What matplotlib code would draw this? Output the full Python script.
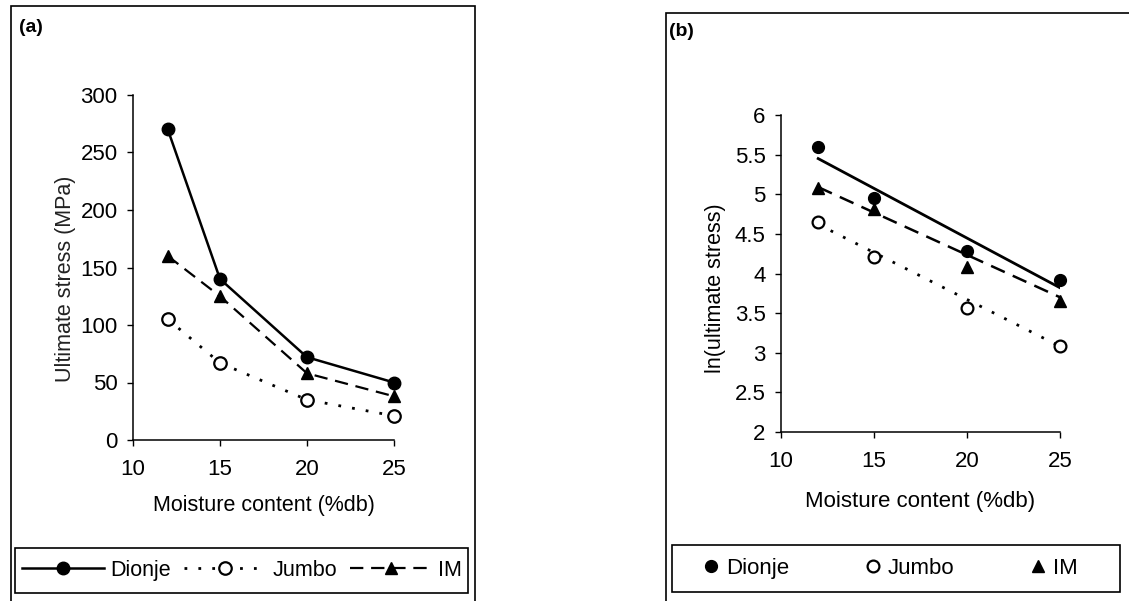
import matplotlib
matplotlib.use('Agg')
import matplotlib.pyplot as plt
from matplotlib.patches import Rectangle
from matplotlib.ticker import FormatStrFormatter

plt.rcParams['font.family'] = ['Liberation Sans', 'DejaVu Sans']

W, H = 1129, 601

# (a) ultimate stress vs moisture content
moisture = [12, 15, 20, 25]
dionje_stress = [270, 140, 72, 50]
jumbo_stress = [105, 67, 35, 21]
im_stress = [160, 125, 58, 38]

# (b) ln(ultimate stress)
dionje_ln = [5.60, 4.95, 4.28, 3.92]
jumbo_ln = [4.65, 4.21, 3.57, 3.08]
im_ln = [5.08, 4.82, 4.08, 3.65]

# fitted lines in (b), end points
trend_x = [12, 25]
dionje_trend = [5.45, 3.82]
jumbo_trend = [4.62, 3.08]
im_trend = [5.09, 3.70]

series_names = ['Dionje', 'Jumbo', 'IM']


def fx(px):
	return px / W


def fy(py):
	return 1 - py / H


def style_axes(ax, fs):
	for s in ['top', 'right']:
		ax.spines[s].set_visible(False)
	for s in ['left', 'bottom']:
		ax.spines[s].set_linewidth(1.1)
	ax.tick_params(direction='out', length=4, width=1, labelsize=fs)
	ax.tick_params(axis='x', pad=10)
	ax.tick_params(axis='y', pad=7)


fig = plt.figure(figsize=(W / 100, H / 100), dpi=100)

# panel frames
fig.patches.append(Rectangle((fx(11), fy(640)), fx(475 - 11), (640 - 6) / H,
	transform=fig.transFigure, fill=False, lw=1.2, ec='black'))
fig.patches.append(Rectangle((fx(666), fy(640)), fx(1160 - 666), (640 - 13) / H,
	transform=fig.transFigure, fill=False, lw=1.2, ec='black'))
# legend frames
fig.patches.append(Rectangle((fx(15), fy(593)), fx(468 - 15), (593 - 548) / H,
	transform=fig.transFigure, fill=False, lw=1.2, ec='black'))
fig.patches.append(Rectangle((fx(672), fy(592)), fx(1120 - 672), (592 - 545) / H,
	transform=fig.transFigure, fill=False, lw=1.2, ec='black'))

fig.text(fx(19), fy(28), '(a)', fontsize=14, fontweight='bold', va='center', ha='left')
fig.text(fx(669), fy(32), '(b)', fontsize=14, fontweight='bold', va='center', ha='left')

# ---- panel (a)
ax = fig.add_axes([fx(133), fy(440), fx(394 - 133), (440 - 95) / H])
l1, = ax.plot(moisture, dionje_stress, color='black', lw=1.8, marker='o', ms=9,
	clip_on=False, zorder=3)
l2, = ax.plot(moisture, jumbo_stress, color='black', lw=2, dashes=(1, 4), marker='o', ms=9,
	mfc='white', mec='black', mew=1.6, clip_on=False, zorder=3)
l3, = ax.plot(moisture, im_stress, color='black', lw=1.6, dashes=(6, 3.5), marker='^', ms=9,
	clip_on=False, zorder=3)
ax.set_xlim(10, 25)
ax.set_ylim(0, 300)
ax.set_xticks([10, 15, 20, 25])
ax.set_yticks(range(0, 301, 50))
style_axes(ax, 16)
ax.set_xlabel('Moisture content (%db)', fontsize=15.5)
ax.set_ylabel('Ultimate stress (MPa)', fontsize=15.5, color='#222222')
ax.xaxis.set_label_coords(0.5, (440 - 505) / 345)
ax.xaxis.label.set_va('center')
ax.yaxis.set_label_coords((65 - 133) / 261, (440 - 279) / 345)
ax.yaxis.label.set_va('center')

fig.legend([l1, l2, l3], series_names, loc='center', ncol=3, mode='expand',
	bbox_to_anchor=(fx(22), fy(593), fx(462 - 22), (593 - 548) / H),
	bbox_transform=fig.transFigure, frameon=False, fontsize=15.5,
	handlelength=3.8, handletextpad=0.3, borderpad=0, borderaxespad=0)

# ---- panel (b)
bx = fig.add_axes([fx(781), fy(432), fx(1060 - 781), (432 - 115) / H])
bx.plot(trend_x, dionje_trend, color='black', lw=2)
bx.plot(trend_x, im_trend, color='black', lw=1.8, dashes=(6, 3.5))
bx.plot(trend_x, jumbo_trend, color='black', lw=2, dashes=(1, 4))
m1, = bx.plot(moisture, dionje_ln, 'o', color='black', ms=8.5, clip_on=False, zorder=3)
m2, = bx.plot(moisture, jumbo_ln, 'o', mfc='white', mec='black', mew=1.6, ms=8.5,
	clip_on=False, zorder=3)
m3, = bx.plot(moisture, im_ln, '^', color='black', ms=9, clip_on=False, zorder=3)
bx.set_xlim(10, 25)
bx.set_ylim(2, 6)
bx.set_xticks([10, 15, 20, 25])
bx.set_yticks([2, 2.5, 3, 3.5, 4, 4.5, 5, 5.5, 6])
bx.yaxis.set_major_formatter(FormatStrFormatter('%g'))
style_axes(bx, 16)
bx.set_xlabel('Moisture content (%db)', fontsize=16)
bx.set_ylabel('ln(ultimate stress)', fontsize=15.5)
bx.xaxis.set_label_coords(0.5, (432 - 502) / 317)
bx.xaxis.label.set_va('center')
bx.yaxis.set_label_coords((715 - 781) / 279, (432 - 288) / 317)
bx.yaxis.label.set_va('center')

fig.legend([m1, m2, m3], series_names, loc='center', ncol=3, mode='expand',
	bbox_to_anchor=(fx(702), fy(592), fx(1078 - 702), (592 - 545) / H),
	bbox_transform=fig.transFigure, frameon=False, fontsize=16,
	handlelength=0.8, handletextpad=0.3, borderpad=0, borderaxespad=0)

fig.savefig('out.png', dpi=100)
